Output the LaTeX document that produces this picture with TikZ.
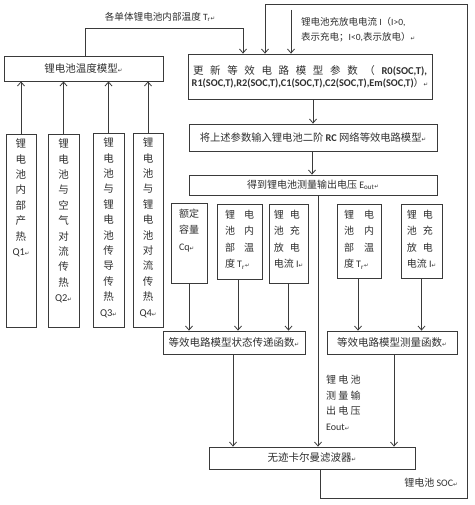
\documentclass[tikz,border=0pt]{standalone}
\usepackage{fontspec}
\setmainfont{Noto Sans CJK SC}
\newfontfamily\lat{Carlito}
\newfontfamily\djv{DejaVu Sans}
\usetikzlibrary{arrows.meta}
\definecolor{lc}{HTML}{3A3A3A}
\definecolor{tc}{HTML}{303030}
\newcommand\rmk{{\djv\fontsize{5.5}{6}\selectfont ↵}}
\tikzset{
  box/.style={draw=lc, line width=0.8pt, inner sep=0pt, text=tc, align=center},
  arr/.style={draw=lc, line width=0.8pt, -{Straight Barb[length=4pt,width=7pt]}},
  ln/.style={draw=lc, line width=0.8pt},
  vt/.style={inner sep=0pt, text=tc, align=center, anchor=north, font=\fontsize{10.5}{15.4}\selectfont},
  mt/.style={inner sep=0pt, text=tc, align=left, anchor=north, font=\fontsize{10}{16.5}\selectfont},
  lbl/.style={inner sep=0pt, text=tc}
}
\begin{document}
\begin{tikzpicture}[x=1pt,y=-1pt]
\useasboundingbox (0,0) rectangle (474,505);
\fill[white] (0,0) rectangle (474,505);

% main boxes
\node[box, minimum width=159, minimum height=25, font=\fontsize{10.5}{12}\selectfont] (tm) at (83.5,68.5) {锂电池温度模型\rmk};
\node[box, minimum width=244, minimum height=45, font=\fontsize{10}{12}\selectfont] (upd) at (310,76.5)
  {\makebox[234pt][s]{\fontsize{10.5}{12}\selectfont 更 新 等 效 电 路 模 型 参 数 （ {\lat\bfseries R0(SOC,T),}}\\
   {\lat\bfseries\fontsize{10.3}{12}\selectfont R1(SOC,T),R2(SOC,T),C1(SOC,T),C2(SOC,T),Em(SOC,T)}）\rmk};
\node[box, minimum width=248, minimum height=27, font=\fontsize{10.3}{12}\selectfont] (inp) at (313,137.5) {将上述参数输入锂电池二阶 {\lat\bfseries RC} 网络等效电路模型\rmk};
\node[box, minimum width=248, minimum height=20, font=\fontsize{10}{11}\selectfont] (eo) at (313,185) {得到锂电池测量输出电压 {\lat E\textsubscript{out}}\rmk};

% Q boxes
\node[box, minimum width=30, minimum height=193] (q1) at (21,230.5) {};
\node[box, minimum width=31, minimum height=193] (q2) at (63.5,230.5) {};
\node[box, minimum width=31, minimum height=194] (q3) at (108.5,230) {};
\node[box, minimum width=30, minimum height=194] (q4) at (148,230) {};
\node[vt] (q1t) at ([yshift=-5]q1.north) {锂\\电\\池\\内\\部\\产\\热\\{\lat Q1}\rmk};
\node[vt] (q2t) at ([yshift=-5]q2.north) {锂\\电\\池\\与\\空\\气\\对\\流\\传\\热\\{\lat Q2}\rmk};
\node[vt] (q3t) at ([yshift=-5]q3.north) {锂\\电\\池\\与\\锂\\电\\池\\传\\导\\传\\热\\{\lat Q3}\rmk};
\node[vt] (q4t) at ([yshift=-5]q4.north) {锂\\电\\池\\与\\锂\\电\\池\\对\\流\\传\\热\\{\lat Q4}\rmk};

% middle boxes
\node[box, minimum width=36, minimum height=80] (cq) at (189,243) {};
\node[box, minimum width=45, minimum height=75] (tb) at (239.5,241.5) {};
\node[box, minimum width=39, minimum height=79] (ib) at (288.5,243.5) {};
\node[box, minimum width=44, minimum height=74] (tb2) at (359,241) {};
\node[box, minimum width=41, minimum height=74] (ib2) at (421.5,241) {};
\node[mt] (cqt) at ([yshift=-6]cq.north) {额定\\容量\\{\lat Cq}\rmk};
\node[mt] (tbt) at ([yshift=-6]tb.north) {锂\hspace{9pt}电\\池\hspace{9pt}内\\部\hspace{9pt}温\\度 {\lat T\textsubscript{r}}\rmk};
\node[mt] (ibt) at ([yshift=-6]ib.north) {锂\hspace{6pt}电\\池\hspace{6pt}充\\放\hspace{6pt}电\\电流 {\lat I}\rmk};
\node[mt] (tb2t) at ([yshift=-6]tb2.north) {锂\hspace{10pt}电\\池\hspace{10pt}内\\部\hspace{10pt}温\\度 {\lat T\textsubscript{r}}\rmk};
\node[mt] (ib2t) at ([yshift=-6]ib2.north) {锂\hspace{6pt}电\\池\hspace{6pt}充\\放\hspace{6pt}电\\电流 {\lat I}\rmk};

% function boxes
\node[box, minimum width=142, minimum height=23, font=\fontsize{10.5}{12}\selectfont] (sf) at (234,342.5) {等效电路模型状态传递函数\rmk};
\node[box, minimum width=130, minimum height=23, font=\fontsize{10.5}{12}\selectfont] (mf) at (392,342.5) {等效电路模型测量函数\rmk};
\node[box, minimum width=206, minimum height=22, font=\fontsize{10.5}{12}\selectfont] (kf) at (312,458) {无迹卡尔曼滤波器\rmk};

% labels
\node[lbl, font=\fontsize{9.6}{11}\selectfont] (tlab) at (160,17) {各单体锂电池内部温度 {\lat T\textsubscript{r}}\rmk};
\node[lbl, anchor=west, align=left, font=\fontsize{9.5}{14.7}\selectfont] (ilab) at (301,29.5) {锂电池充放电电流 {\lat I}（{\lat I>0,}\\表示充电；{\lat I<0,}表示放电）\rmk};
\node[lbl, anchor=north west, align=left, font=\fontsize{10}{15.5}\selectfont] (elab) at (326,375) {锂 电 池\\测 量 输\\出 电 压\\{\lat Eout}\rmk};
\node[lbl, font=\fontsize{10}{12}\selectfont] (slab) at (431,483) {锂电池 {\lat SOC}\rmk};

% coordinates
\coordinate (tA) at (243,28);
\coordinate (iA) at (291,10);
\coordinate (s1) at (320,498);
\coordinate (s2) at (467,498);
\coordinate (s3) at (467,4);
\coordinate (s4) at (265,4);

% connectors: Q boxes to temp model
\foreach \q in {q1,q2,q3,q4}{
  \draw[arr] (\q.north) -- (\q.north |- tm.south);
}
% temperature feedback
\draw[arr] ([xshift=1.5pt]tm.north) |- (tA) -- (tA |- upd.north);
% current input
\draw[arr] (iA) -- (iA |- upd.north);
% main chain
\draw[arr] (inp.north |- upd.south) -- (inp.north);
\draw[arr] ([xshift=-1pt]inp.south) -- ([xshift=-1pt]eo.north);
\draw[arr] ([xshift=5pt]eo.south) -- ([xshift=5pt]eo.south |- kf.north);
% middle boxes to functions
\draw[arr] (cq.south) -- (cq.south |- sf.north);
\draw[arr] ([xshift=-1.5pt]tb.south) -- ([xshift=-1.5pt]tb.south |- sf.north);
\draw[arr] (ib.south) -- (ib.south |- sf.north);
\draw[arr] ([xshift=-1pt]tb2.south) -- ([xshift=-1pt]tb2.south |- mf.north);
\draw[arr] (ib2.south) -- (ib2.south |- mf.north);
% functions to Kalman
\draw[arr] ([xshift=-1pt]sf.south) -- ([xshift=-1pt]sf.south |- kf.north);
\draw[arr] ([xshift=2pt]mf.south) -- ([xshift=2pt]mf.south |- kf.north);
% SOC feedback loop
\draw[arr] (s1 |- kf.south) -- (s1) -- (s2) -- (s3) -- (s4) -- (s4 |- upd.north);
\end{tikzpicture}
\end{document}
